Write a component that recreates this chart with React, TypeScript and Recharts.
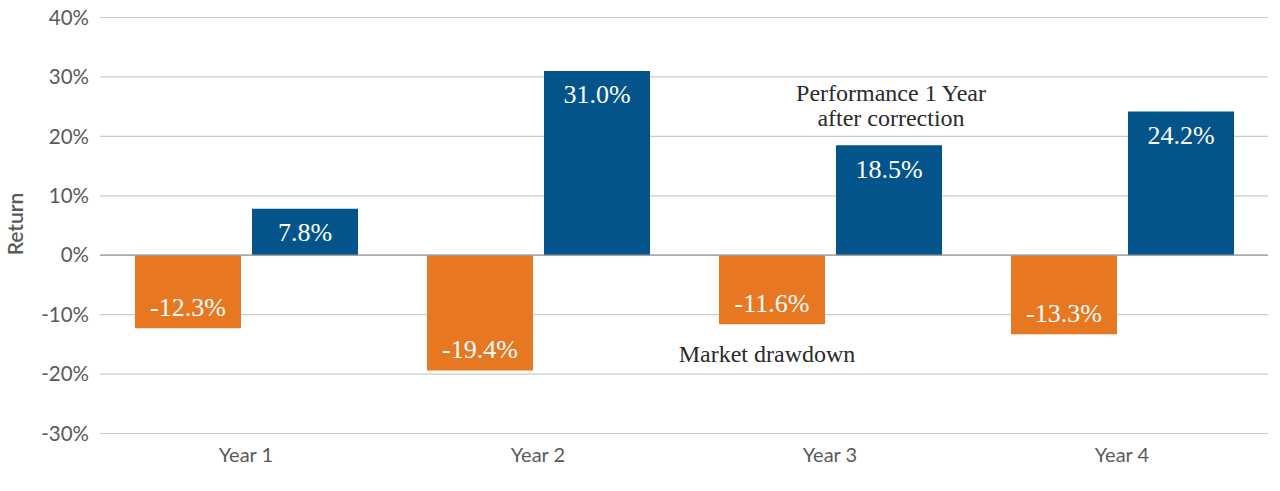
import { BarChart, Bar, XAxis, YAxis, CartesianGrid, ReferenceLine, LabelList } from 'recharts'

const years = ['Year 1', 'Year 2', 'Year 3', 'Year 4']
const drawdown = [-12.3, -19.4, -11.6, -13.3]
const afterCorrection = [7.8, 31.0, 18.5, 24.2]
const yTicks = [-30, -20, -10, 0, 10, 20, 30, 40]

const ORANGE = '#e87722'
const BLUE = '#03548a'
const SANS = 'Lato, "Open Sans", sans-serif'
const SERIF = '"Liberation Serif", "DejaVu Serif", serif'

const data = years.map((year, i) => ({
  year,
  drawdown: drawdown[i],
  after: afterCorrection[i],
}))

// label sits inside the bar, near its far end
function BarValue(props: any) {
  const { x, y, width, height, value } = props
  const top = Math.min(y, y + height)
  const bottom = Math.max(y, y + height)
  const cy = value >= 0 ? top + 24 : bottom - 21
  return (
    <text
      x={x + width / 2}
      y={cy}
      textAnchor="middle"
      dominantBaseline="central"
      fill="#ffffff"
      fontFamily={SERIF}
      fontSize={26}
    >
      {value.toFixed(1)}%
    </text>
  )
}

const note = {
  position: 'absolute' as const,
  width: 320,
  textAlign: 'center' as const,
  fontFamily: SERIF,
  fontSize: 24,
  lineHeight: '25px',
  color: '#2b2b2b',
}

export default function App() {
  return (
    <div style={{ position: 'fixed', left: 0, top: 0, width: 1280, height: 491, background: '#fff' }}>
      <BarChart
        width={1280}
        height={491}
        data={data}
        margin={{ top: 17.5, right: 12, bottom: 17.5, left: 0 }}
        barCategoryGap={35}
        barGap={11}
      >
        <CartesianGrid vertical={false} stroke="#cccccc" strokeWidth={1.2} />
        <XAxis
          dataKey="year"
          axisLine={false}
          tickLine={false}
          height={40}
          tick={{ fill: '#5a5a5a', fontSize: 20, fontFamily: SANS }}
          tickMargin={8}
        />
        <YAxis
          domain={[-30, 40]}
          ticks={yTicks}
          width={100}
          axisLine={false}
          tickLine={false}
          tickMargin={5}
          tickFormatter={(v) => `${v}%`}
          tick={{ fill: '#5a5a5a', fontSize: 20.5, fontFamily: SANS }}
        />
        <ReferenceLine y={0} stroke="#9a9a9a" strokeWidth={1.2} />
        <Bar dataKey="drawdown" fill={ORANGE} isAnimationActive={false}>
          <LabelList dataKey="drawdown" content={BarValue} />
        </Bar>
        <Bar dataKey="after" fill={BLUE} isAnimationActive={false}>
          <LabelList dataKey="after" content={BarValue} />
        </Bar>
      </BarChart>
      <div
        style={{
          position: 'absolute',
          left: 15 - 50,
          top: 224 - 12,
          width: 100,
          height: 24,
          lineHeight: '24px',
          textAlign: 'center',
          transform: 'rotate(-90deg)',
          fontFamily: SANS,
          fontSize: 21,
          fontWeight: 600,
          color: '#5a5a5a',
        }}
      >
        Return
      </div>
      <div style={{ ...note, left: 891 - 160, top: 81 }}>
        Performance 1 Year
        <br />
        after correction
      </div>
      <div style={{ ...note, left: 767 - 160, top: 342 }}>Market drawdown</div>
    </div>
  )
}
